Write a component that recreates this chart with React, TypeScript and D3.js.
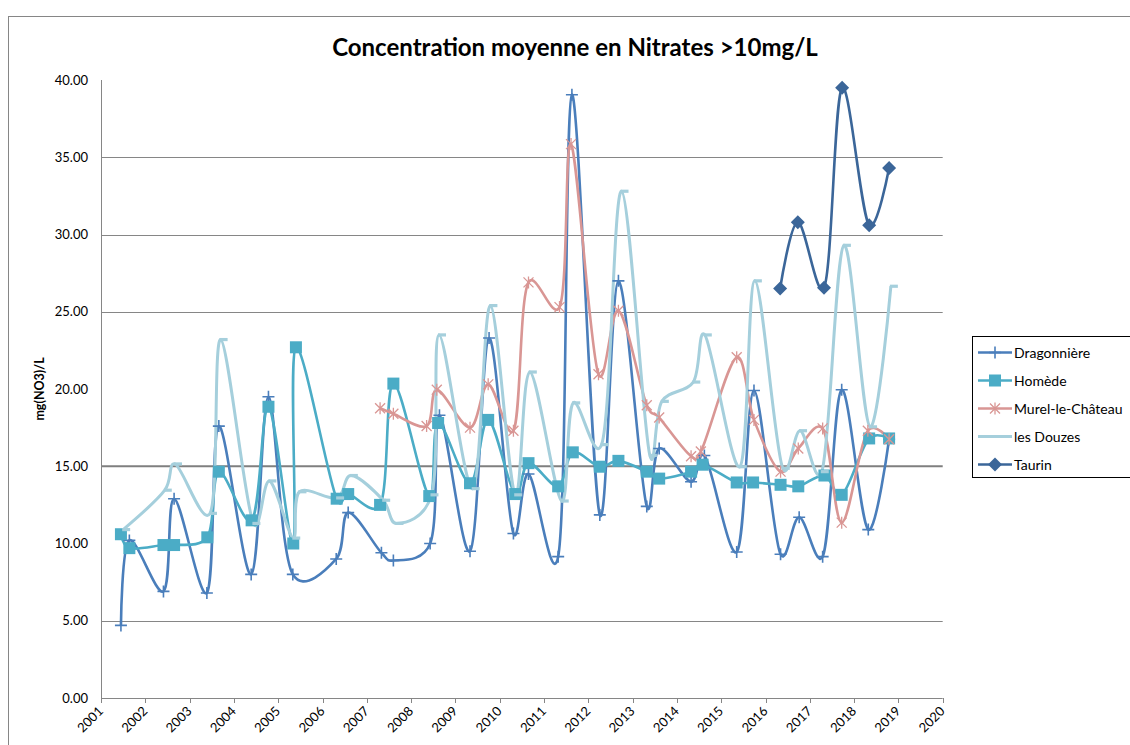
import React from "react";
import * as d3 from "d3";

const title = "Concentration moyenne en Nitrates >10mg/L";
const yAxisTitle = "mg(NO3)/L";
const yTicks = [0, 5, 10, 15, 20, 25, 30, 35, 40];
const gridValues = [5, 25, 30, 35];
const thresholdValue = 15;
const xYears = d3.range(2001, 2021);

const seriesNames = ["Dragonnière", "Homède", "Murel-le-Château", "les Douzes", "Taurin"];

const dragonniereDates = [2001.45, 2001.64, 2002.41, 2002.65, 2003.39, 2003.66, 2004.39, 2004.78, 2005.33, 2006.31, 2006.58, 2007.33, 2007.6, 2008.43, 2008.64, 2009.33, 2009.76, 2010.31, 2010.65, 2011.32, 2011.63, 2012.26, 2012.68, 2013.32, 2013.6, 2014.32, 2014.62, 2015.35, 2015.74, 2016.34, 2016.76, 2017.29, 2017.72, 2018.32, 2018.79];
const dragonniereValues = [4.7, 10.2, 6.9, 12.9, 6.8, 17.6, 8.0, 19.5, 8.0, 9.0, 12.0, 9.4, 8.9, 10.0, 18.3, 9.5, 23.3, 10.65, 14.5, 9.15, 39.05, 11.85, 27.0, 12.4, 16.15, 14.0, 15.7, 9.45, 19.9, 9.3, 11.7, 9.15, 19.95, 10.9, 16.75];

const homedeDates = [2001.45, 2001.64, 2002.41, 2002.65, 2003.4, 2003.66, 2004.4, 2004.78, 2005.34, 2005.4, 2006.32, 2006.58, 2007.3, 2007.6, 2008.41, 2008.61, 2009.33, 2009.74, 2010.35, 2010.65, 2011.32, 2011.65, 2012.26, 2012.68, 2013.32, 2013.6, 2014.32, 2014.58, 2015.35, 2015.72, 2016.34, 2016.74, 2017.33, 2017.72, 2018.34, 2018.79];
const homedeValues = [10.6, 9.7, 9.9, 9.9, 10.4, 14.65, 11.5, 18.85, 10.0, 22.7, 12.9, 13.2, 12.5, 20.35, 13.07, 17.8, 13.9, 18.0, 13.2, 15.2, 13.7, 15.9, 14.97, 15.35, 14.65, 14.2, 14.65, 15.1, 13.95, 13.95, 13.8, 13.7, 14.4, 13.15, 16.8, 16.8];

const murelDates = [2007.3, 2007.6, 2008.35, 2008.58, 2009.33, 2009.74, 2010.31, 2010.65, 2011.35, 2011.61, 2012.23, 2012.68, 2013.32, 2013.6, 2014.32, 2014.54, 2015.35, 2015.74, 2016.34, 2016.74, 2017.29, 2017.72, 2018.31, 2018.79];
const murelValues = [18.75, 18.4, 17.6, 19.95, 17.5, 20.3, 17.3, 26.9, 25.3, 35.85, 20.95, 25.07, 18.95, 18.15, 15.65, 15.95, 22.05, 18.0, 14.65, 16.15, 17.45, 11.35, 17.3, 16.75];

const douzesDates = [2001.5, 2002.44, 2002.67, 2003.46, 2003.7, 2004.44, 2004.8, 2005.34, 2005.48, 2006.33, 2006.64, 2007.37, 2007.67, 2008.46, 2008.63, 2009.39, 2009.79, 2010.35, 2010.68, 2011.4, 2011.66, 2012.3, 2012.75, 2013.39, 2013.66, 2014.37, 2014.63, 2015.42, 2015.76, 2016.39, 2016.78, 2017.27, 2017.77, 2018.36, 2018.83];
const douzesValues = [10.9, 13.45, 15.15, 11.95, 23.2, 11.3, 14.05, 10.35, 13.35, 12.95, 14.4, 12.8, 11.3, 13.15, 23.5, 13.55, 25.4, 13.15, 21.1, 12.75, 19.1, 16.4, 32.8, 15.7, 19.2, 20.45, 23.5, 14.97, 27.0, 14.87, 17.3, 14.65, 29.3, 17.55, 26.65];

const taurinDates = [2016.33, 2016.73, 2017.32, 2017.73, 2018.34, 2018.79];
const taurinValues = [26.5, 30.8, 26.55, 39.5, 30.6, 34.3];

const seriesColors = ["#4a7ebb", "#4bacc6", "#d99694", "#a5cfdc", "#3b6699"];
const markerTypes = ["plus", "square", "asterisk", "dash", "diamond"];

const FONT = "Lato, 'Open Sans', 'Liberation Sans', sans-serif";

function Marker({ type, color, x, y }: { type: string; color: string; x: number; y: number }) {
  if (type === "plus") {
    return <path d={`M${x - 6},${y}H${x + 6}M${x},${y - 6}V${y + 6}`} stroke={color} strokeWidth={1.6} fill="none" />;
  }
  if (type === "square") {
    return <rect x={x - 6} y={y - 6} width={12} height={12} fill={color} />;
  }
  if (type === "asterisk") {
    return (
      <path
        d={`M${x - 5},${y - 5}L${x + 5},${y + 5}M${x - 5},${y + 5}L${x + 5},${y - 5}M${x},${y - 6}V${y + 6}`}
        stroke={color}
        strokeWidth={1.3}
        fill="none"
      />
    );
  }
  if (type === "dash") {
    return <path d={`M${x - 1},${y}H${x + 7}`} stroke={color} strokeWidth={3.2} fill="none" />;
  }
  if (type === "diamond") {
    return <path d={`M${x},${y - 7}L${x + 7},${y}L${x},${y + 7}L${x - 7},${y}Z`} fill={color} />;
  }
  return null;
}

export default function App() {
  const W = 1130;
  const H = 745;
  const left = 101;
  const right = 942.7;
  const top = 80;
  const bottom = 698;

  const x = d3.scaleLinear().domain([2001, 2020]).range([left, right]);
  const y = d3.scaleLinear().domain([0, 40]).range([bottom, top]);

  const seriesData = [
    { dates: dragonniereDates, values: dragonniereValues },
    { dates: homedeDates, values: homedeValues },
    { dates: murelDates, values: murelValues },
    { dates: douzesDates, values: douzesValues },
    { dates: taurinDates, values: taurinValues },
  ].map((s, i) => ({
    name: seriesNames[i],
    color: seriesColors[i],
    marker: markerTypes[i],
    points: s.dates.map((d, j) => [d, s.values[j]] as [number, number]),
  }));

  const line = d3
    .line<[number, number]>()
    .x((d) => x(d[0]))
    .y((d) => y(d[1]))
    .curve(d3.curveCatmullRom.alpha(0.15));

  const legendX = 972.5;
  const legendY = 336.5;
  const legendRowH = 28;

  return (
    <svg width={W} height={H} style={{ position: "absolute", left: 0, top: 0, background: "#fff" }}>
      <rect x={0} y={0} width={W} height={H} fill="#fff" />
      <rect x={8.5} y={16.5} width={1300} height={900} fill="none" stroke="#868686" strokeWidth={1} />

      <text x={575} y={56} textAnchor="middle" fontFamily={FONT} fontWeight="bold" fontSize={24} fill="#000">
        {title}
      </text>

      {gridValues.map((v) => (
        <line key={v} x1={left} x2={right} y1={Math.round(y(v)) + 0.5} y2={Math.round(y(v)) + 0.5} stroke="#868686" strokeWidth={1} />
      ))}
      <line x1={left} x2={right} y1={y(thresholdValue)} y2={y(thresholdValue)} stroke="#7f7f7f" strokeWidth={2} />

      <line x1={left + 0.5} x2={left + 0.5} y1={top} y2={bottom} stroke="#868686" strokeWidth={1} />
      <line x1={left} x2={right} y1={bottom + 0.5} y2={bottom + 0.5} stroke="#868686" strokeWidth={1} />

      {yTicks.map((v) => (
        <text key={v} x={88} y={y(v) + 4.5} textAnchor="end" fontFamily={FONT} fontSize={13} fill="#000">
          {v.toFixed(2)}
        </text>
      ))}

      <text
        transform={`translate(44,${(top + bottom) / 2}) rotate(-90)`}
        textAnchor="middle"
        fontFamily={FONT}
        fontWeight="bold"
        fontSize={12.5}
        fill="#000"
      >
        {yAxisTitle}
      </text>

      {xYears.map((yr) => (
        <g key={yr}>
          <line x1={Math.round(x(yr)) + 0.5} x2={Math.round(x(yr)) + 0.5} y1={bottom} y2={bottom + 5} stroke="#868686" />
          <text
            transform={`translate(${x(yr) + 3},${bottom + 14}) rotate(-45)`}
            textAnchor="end"
            fontFamily={FONT}
            fontSize={13}
            fill="#000"
          >
            {yr}
          </text>
        </g>
      ))}

      {seriesData.map((s) => (
        <path key={s.name} d={line(s.points) || ""} fill="none" stroke={s.color} strokeWidth={s.marker === "dash" ? 3 : 2.6} strokeLinejoin="round" />
      ))}
      {seriesData.map((s) => (
        <g key={s.name + "-m"}>
          {s.points.map((p, j) => (
            <Marker key={j} type={s.marker} color={s.color} x={x(p[0])} y={y(p[1])} />
          ))}
        </g>
      ))}

      <rect x={legendX} y={legendY} width={300} height={141} fill="#fff" stroke="#000" strokeWidth={1} />
      {seriesData.map((s, i) => {
        const cy = legendY + 16 + i * legendRowH;
        return (
          <g key={s.name + "-leg"}>
            <line x1={978} x2={1012} y1={cy} y2={cy} stroke={s.color} strokeWidth={s.marker === "dash" ? 3 : 2.6} />
            {s.marker !== "dash" && <Marker type={s.marker} color={s.color} x={995} y={cy} />}
            <text x={1014} y={cy + 5} fontFamily={FONT} fontSize={14} fill="#000">
              {s.name}
            </text>
          </g>
        );
      })}
    </svg>
  );
}
